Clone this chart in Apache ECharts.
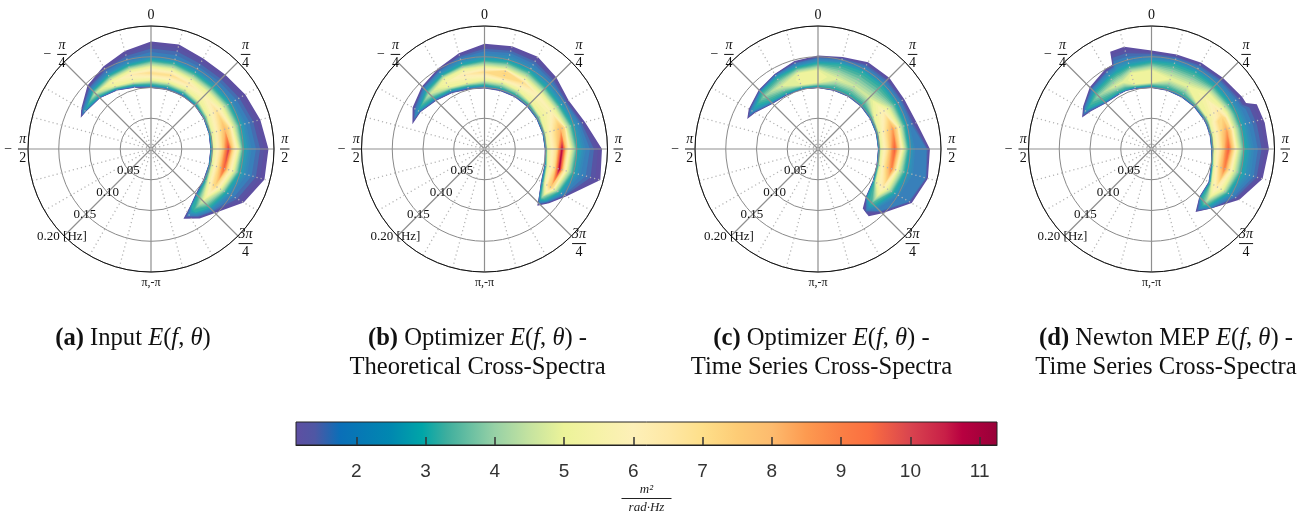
<!DOCTYPE html>
<html><head><meta charset="utf-8">
<script src="https://cdn.jsdelivr.net/npm/echarts@6/dist/echarts.min.js"></script>
<style>html,body{margin:0;padding:0;background:#fff}#c{width:1308px;height:515px}</style>
</head><body><div id="c"></div>
<script>
// InN / OutN: where the spectrum crosses level N on the low / high frequency side of the ridge.
const n = null;
const aTheta = [-66,-60,-45,-30,-15,0,15,30,45,60,75,90,105,120,135,145,155];
const aIn1   = [125,122,117,110,103,99,99.5,100,100,98.5,97,96.5,97,98.5,103,112,125];
const aIn3   = [n,n,120,113,107,104,104,104,103,100.5,99,98.5,99,102,107,115,n];
const aIn5   = [n,n,n,118,113,112,112,112,110,106,103,102,103,107,n,n,n];
const aIn7   = [n,n,n,n,n,n,n,n,n,n,117,115,113,117,n,n,n];
const aRidge = [125,124,128,125,125,123.5,124,122,122,123,124,126,123,120,119,121,125];
const aPeak  = [1,2.6,4.5,5.5,6.3,7,7,6.5,5.8,6.8,8,10.2,9.6,7.2,4.8,3.2,1];
const aOut7  = [n,n,n,n,n,n,n,n,n,n,132,134,130,122,n,n,n];
const aOut5  = [n,n,n,129,132,134,134,131,131,135,138,142.7,139,131,n,n,n];
const aOut3  = [n,n,134,138,141,145,145,143,143,147,150,151,149,141,135,126,n];
const aOut2  = [n,127,138,143,148,152,152,150,151,155,160,164,162,150,140,131,n];
const aOut18 = aTheta.map(()=>n);
const aOut1  = [125,131,146,155,165,175,176,170,171,177,184,191,191,174,147,138,125];

const bTheta = [-71,-60,-45,-30,-15,0,15,30,45,60,75,90,105,120,130,137];
const bIn1   = [124,120,111,105,100,98.5,97.5,97.5,97.5,97.5,97.5,98,101,106,116,126];
const bIn3   = [n,n,116,110,105,103.5,102,101,101,100,99.5,100,103,109,118,n];
const bIn5   = [n,n,n,116,111,112,112,110,107,105,103,103,106,113,n,n];
const bIn7   = [n,n,n,n,n,n,120,n,n,n,118,117,118,119,n,n];
const bRidge = [124,124,126,125,125,125,127,125,123,124,128,126,126,124,122,126];
const bPeak  = [1,2.8,4.5,5.5,6.3,7,7.3,7,6,5.8,8,10.8,11,7.5,4,1];
const bOut7  = [n,n,n,n,n,n,132,n,n,n,135,134,133,128,n,n];
const bOut5  = [n,n,n,132,134,134,135,133,130,131,137,141,139,132,n,n];
const bOut3  = [n,n,134,139,142,145,147,146,142,142,148,152,150,141,130,n];
const bOut2  = [n,128,139,145,151,155,158,156,152,150,158,165,162,148,133,n];
const bOut18 = bTheta.map(()=>n);
const bOut1  = [124,135,144,151,161,171,173,173,165,158,169,191,195,154,137,126];

const cTheta = [-67,-60,-45,-30,-15,0,15,30,45,60,75,90,105,120,135,143];
const cIn1   = [125,118,104,101,100,99,98,98,98,97.5,97.5,97.5,98.5,103,110,121];
const cIn3   = [n,n,109,104,103,102,101,101,101,100,99.5,99.5,100.5,105,113,n];
const cIn5   = [n,n,n,n,108,108,n,n,n,105,103,102.5,104,109,n,n];
const cIn7   = [n,n,n,n,n,n,n,n,n,n,115,114,113,n,n,n];
const cRidge = [125,123,122,118,118,118,118,118,118,122,126,124.5,124,122,124,128];
const cPeak  = [1,2.5,4,4.8,5.05,5.1,4.9,4.6,4.7,6,8.5,9.7,9,6.5,3.5,1.4];
const cOut7  = [n,n,n,n,n,n,n,n,n,n,133,133,130,n,n,n];
const cOut5  = [n,n,n,n,127,128,n,n,n,132,137,138.8,135,131,n,n];
const cOut3  = [n,n,131,134,137,140,143,145,146,146,147,148,147,142,130,n];
const cOut2  = [n,126,133,138,142,146,149,152,153,153,154,158,160,152,137,n];
const cOut18 = [n,n,n,n,n,n,n,n,n,n,n,176,181,170,142,n];
const cOut1  = [125,130,136,141,148,152,155,163,164,162,166,182,185,176,148,137];

const dTheta = [-65.5,-58,-45,-30,-25,-23,-15,0,15,30,45,60,64,67,77,90,105,120,135,145];
const dIn1   = [124,116,105,103,103,103,101,99,98,97,97,97,97,97,97,97,100,107,110,124.7];
const dIn3   = [n,n,109,106,105,105,104,103,101,100,100,100,100,100,99.5,99.5,102,110,113,n];
const dIn5   = [n,n,n,n,n,n,109,108,n,n,105,104,104,103.5,102.5,102,105,113,n,n];
const dIn7   = [n,n,n,n,n,n,n,n,n,n,n,n,n,117,115,114,113,n,n,n];
const dRidge = [124,123,122,118,118,118,118,118,118,118,120,124,126,126,126,125,123,122,124,125];
const dPeak  = [1,3,4,4.8,4.9,4.9,5.1,5.2,5,5,5.4,6.5,6.9,7.3,8.5,9.7,9,6.5,4,1];
const dOut7  = [n,n,n,n,n,n,n,n,n,n,n,n,n,130,133,134,130,n,n,n];
const dOut5  = [n,n,n,n,n,n,127,128,n,n,130,134,136,136,138,140,138,134,n,n];
const dOut3  = [n,n,131,135,137,137,140,142,143,144,145,147,148,149,151,153,151,144,131,n];
const dOut2  = [n,127,136,142,144,150,150,150,150,152,154,157,158,160,163,167,167,152,136,n];
const dOut18 = dTheta.map(()=>n);
const dOut1  = [124,131,142,150,151,172,172,160,159,162,164,170,171,186,189,191,187,165,137,125];

const panels = [
  {theta:aTheta,in1:aIn1,in3:aIn3,in5:aIn5,in7:aIn7,ridge:aRidge,peak:aPeak,out7:aOut7,out5:aOut5,out3:aOut3,out2:aOut2,out18:aOut18,out1:aOut1,center:[151,149]},
  {theta:bTheta,in1:bIn1,in3:bIn3,in5:bIn5,in7:bIn7,ridge:bRidge,peak:bPeak,out7:bOut7,out5:bOut5,out3:bOut3,out2:bOut2,out18:bOut18,out1:bOut1,center:[484.5,149]},
  {theta:cTheta,in1:cIn1,in3:cIn3,in5:cIn5,in7:cIn7,ridge:cRidge,peak:cPeak,out7:cOut7,out5:cOut5,out3:cOut3,out2:cOut2,out18:cOut18,out1:cOut1,center:[818,149]},
  {theta:dTheta,in1:dIn1,in3:dIn3,in5:dIn5,in7:dIn7,ridge:dRidge,peak:dPeak,out7:dOut7,out5:dOut5,out3:dOut3,out2:dOut2,out18:dOut18,out1:dOut1,center:[1151.5,149]}
];

const colorbarTicks = [2,3,4,5,6,7,8,9,10,11];
const colorbarMin = 1.13, colorbarMax = 11.25;
const colorLevels = [1.13,1.4,1.77,2.5,2.95,3.3,4,4.5,5,5.5,6,6.5,7,7.5,8,8.5,9,9.4,10,10.5,10.75,11.25];
const colorValues = ['#5e4fa2','#4f57a4','#0a6fb8','#0088b0','#00a5a8','#3dae9e','#97d1a6','#c5e3a0','#ecf399','#f6f2a8','#fdf0b8','#fee8a5','#fedf8a','#fdcc76','#fdbb6e','#fd9a50','#fb7f45','#fb6f40','#d9444f','#c81f47','#b80040','#980138'];
// the filled contours look a little softer than the bar in the low range
const fillValues = ['#5e4fa2','#5754a4','#3a7dba','#2f93b8','#1fa7ac'].concat(colorValues.slice(5));

const ringLabels = [[0.05,'0.05',-1,0],[0.10,'0.10',0,0],[0.15,'0.15',-1,0],[0.20,'0.20 [Hz]',-2,1]];
const angleLabels = [
  {a:0,plain:'0'},{a:45,num:'π',den:'4'},{a:90,num:'π',den:'2'},{a:135,num:'3π',den:'4'},
  {a:180,plain:'π,-π'},{a:-90,num:'π',den:'2',minus:true},{a:-45,num:'π',den:'4',minus:true}
];
const captions = [
  [133,338.5,'{b|(a)} Input {i|E}({i|f}, {i|θ})'],
  [477.5,338.5,'{b|(b)} Optimizer {i|E}({i|f}, {i|θ}) -'],[477.5,367.5,'Theoretical Cross-Spectra'],
  [821.5,338.5,'{b|(c)} Optimizer {i|E}({i|f}, {i|θ}) -'],[821.5,367.5,'Time Series Cross-Spectra'],
  [1166,338.5,'{b|(d)} Newton MEP {i|E}({i|f}, {i|θ}) -'],[1166,367.5,'Time Series Cross-Spectra']
];

const SERIF = '"Liberation Serif","Times New Roman",serif';
const CAP = 24.6;
const contourLevels = [];
for (let L = 1; L <= 11.2; L += 0.25) contourLevels.push(L);

function hex(c){return [1,3,5].map(i=>parseInt(c.substr(i,2),16));}
function colorOf(v){
  if (v <= colorLevels[0]) return fillValues[0];
  for (let i=1;i<colorLevels.length;i++) if (v<=colorLevels[i]){
    const t=(v-colorLevels[i-1])/(colorLevels[i]-colorLevels[i-1]);
    const a=hex(fillValues[i-1]),b=hex(fillValues[i]);
    return 'rgb('+a.map((x,k)=>Math.round(x+(b[k]-x)*t)).join(',')+')';
  }
  return fillValues[fillValues.length-1];
}
// frequency (mHz) where row i of a panel crosses level L, on one side of the ridge
function crossing(p,i,L,side){
  const knots = side==='in'
    ? [[1,p.in1[i]],[3,p.in3[i]],[5,p.in5[i]],[7,p.in7[i]]]
    : [[1,p.out1[i]],[1.8,p.out18[i]],[2,p.out2[i]],[3,p.out3[i]],[5,p.out5[i]],[7,p.out7[i]]];
  const k = knots.filter(q=>q[1]!==null && q[0]<p.peak[i]);
  k.push([p.peak[i],p.ridge[i]]);
  if (L<=k[0][0]) return k[0][1];
  for (let j=1;j<k.length;j++) if (L<=k[j][0]){
    const t=(L-k[j-1][0])/(k[j][0]-k[j-1][0]);
    return k[j-1][1]+(k[j][1]-k[j-1][1])*t;
  }
  return k[k.length-1][1];
}
function tip(p,i0,i1,L){
  const t=(L-p.peak[i0])/(p.peak[i1]-p.peak[i0]);
  return [p.ridge[i0]+(p.ridge[i1]-p.ridge[i0])*t, p.theta[i0]+(p.theta[i1]-p.theta[i0])*t];
}
function bandPolys(p,L){
  const polys=[];let upper=null,lower=null;
  for(let i=0;i<p.theta.length;i++){
    if(p.peak[i]>=L){
      if(!upper){upper=[];lower=[]; if(i>0) upper.push(tip(p,i-1,i,L));}
      upper.push([crossing(p,i,L,'out'),p.theta[i]]);
      lower.unshift([crossing(p,i,L,'in'),p.theta[i]]);
    } else if(upper){
      upper.push(tip(p,i,i-1,L));
      polys.push(upper.concat(lower));upper=null;
    }
  }
  if(upper) polys.push(upper.concat(lower));
  return polys;
}

const polar=[],angleAxis=[],radiusAxis=[],series=[];
panels.forEach((p,idx)=>{
  polar.push({center:p.center,radius:123});
  angleAxis.push({polarIndex:idx,type:'value',min:-180,max:180,interval:45,startAngle:-90,clockwise:true,z:5,
    axisLine:{show:true,lineStyle:{color:'#111',width:1}},axisTick:{show:false},axisLabel:{show:false},
    minorTick:{show:false,splitNumber:3},
    splitLine:{show:true,lineStyle:{color:'#8f8f8f',width:1.2}},
    minorSplitLine:{show:true,lineStyle:{color:'#b4b4b4',width:1.3,type:[1.2,3]}}});
  radiusAxis.push({polarIndex:idx,type:'value',min:0,max:0.2,interval:0.05,z:4,
    axisLine:{show:false},axisTick:{show:false},axisLabel:{show:false},
    splitLine:{show:true,lineStyle:{color:'#8a8a8a',width:1}}});
  series.push({type:'custom',coordinateSystem:'polar',polarIndex:idx,silent:true,z:1,animation:false,
    data:contourLevels.map(l=>[l]),
    renderItem(params,api){
      const L=api.value(0);
      return {type:'group',children:bandPolys(p,L).map(poly=>({type:'polygon',
        shape:{points:poly.map(q=>api.coord([q[0]/1000,q[1]]))},
        style:{fill:colorOf(L+0.125)}}))};
    }});
  series.push({type:'custom',coordinateSystem:'polar',polarIndex:idx,silent:true,z:6,animation:false,
    data:ringLabels.map(r=>[r[0]]),
    renderItem(params,api){
      const r=ringLabels[params.dataIndex],c=api.coord([r[0],-135]);
      return {type:'text',x:c[0]+r[2],y:c[1]+r[3],style:{text:r[1],fill:'#111',font:'13px '+SERIF,align:'center',verticalAlign:'middle'}};
    }});
  series.push({type:'custom',coordinateSystem:'polar',polarIndex:idx,silent:true,z:6,animation:false,
    data:angleLabels.map(a=>[a.a]),
    renderItem(params,api){
      const a=angleLabels[params.dataIndex],c=api.coord([0.2175,a.a]),kids=[];
      const t=(s,x,y,f)=>({type:'text',x:c[0]+x,y:c[1]+y,style:{text:s,fill:'#111',font:f||('13px '+SERIF),align:'center',verticalAlign:'middle'}});
      if(a.plain){kids.push(t(a.plain,0,0,(a.a===0?'14px ':'12px ')+SERIF));}
      else{
        const w=a.num.length>1?14:9.5,sh=a.minus?5.5:0;
        kids.push(t(a.num,sh,-9.5,'italic 14px '+SERIF),t(a.den,sh,9,'14px '+SERIF));
        kids.push({type:'line',shape:{x1:c[0]+sh-w/2,y1:c[1],x2:c[0]+sh+w/2,y2:c[1]},style:{stroke:'#111',lineWidth:1}});
        if(a.minus) kids.push(t('−',-9,0,'14px '+SERIF));
      }
      return {type:'group',children:kids};
    }});
});
// colour bar
series.push({type:'custom',coordinateSystem:'cartesian2d',xAxisIndex:0,yAxisIndex:0,silent:true,z:1,animation:false,
  data:[[colorbarMin,colorbarMax]],
  renderItem(params,api){
    const a=api.coord([colorbarMin,0]),b=api.coord([colorbarMax,1]);
    const stops=colorLevels.map((v,i)=>({offset:(v-colorbarMin)/(colorbarMax-colorbarMin),color:colorValues[i]}));
    return {type:'rect',shape:{x:a[0],y:b[1],width:b[0]-a[0],height:a[1]-b[1]},
      style:{fill:{type:'linear',x:0,y:0,x2:1,y2:0,colorStops:stops}}};
  }});

const option={
  animation:false,backgroundColor:'#fff',
  title:captions.map(c=>({text:c[2],left:c[0],top:c[1],textAlign:'center',textVerticalAlign:'middle',padding:0,
    textStyle:{fontFamily:SERIF,fontSize:CAP,fontWeight:'normal',color:'#111',
      rich:{b:{fontFamily:SERIF,fontSize:CAP,fontWeight:'bold',color:'#111'},i:{fontFamily:SERIF,fontSize:CAP,fontStyle:'italic',color:'#111'}}}})),
  polar,angleAxis,radiusAxis,
  grid:{show:true,left:296,width:701,top:422,height:23,outerBoundsMode:'none',borderColor:'#222',borderWidth:1,backgroundColor:'transparent',z:5},
  xAxis:{type:'value',min:colorbarMin,max:colorbarMax,position:'bottom',z:5,
    splitLine:{show:false},axisLine:{show:true,lineStyle:{color:'#222',width:1}},
    axisTick:{show:true,inside:true,length:8,customValues:colorbarTicks,lineStyle:{color:'#333',width:1.5}},
    axisLabel:{show:true,customValues:colorbarTicks,margin:17,fontFamily:'"Liberation Sans",Arial,sans-serif',fontSize:19,color:'#333',hideOverlap:false,showMinLabel:true,showMaxLabel:true},
    name:'{n|m²}\n{l|}\n{d|rad·Hz}',nameLocation:'middle',nameGap:37,
    nameTextStyle:{rich:{
      n:{fontFamily:SERIF,fontStyle:'italic',fontSize:13,color:'#222',lineHeight:15,align:'center'},
      l:{width:50,height:1,backgroundColor:'#222',lineHeight:3,align:'center'},
      d:{fontFamily:SERIF,fontStyle:'italic',fontSize:13,color:'#222',lineHeight:15,align:'center'}}}},
  yAxis:{type:'value',min:0,max:1,show:false},
  series
};
echarts.init(document.getElementById('c'),null,{renderer:'canvas'}).setOption(option);
</script></body></html>
